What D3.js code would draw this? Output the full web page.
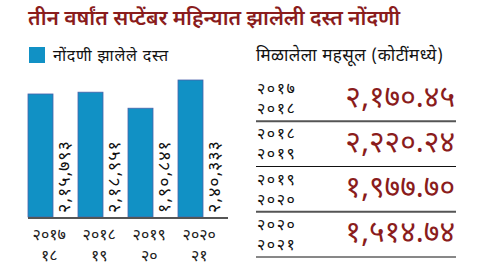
<!DOCTYPE html>
<html>
<head>
<meta charset="utf-8">
<script src="https://cdn.jsdelivr.net/npm/d3@7"></script>
<style>
  body { margin: 0; background: #fff; }
  svg { display: block; font-family: "Noto Sans Devanagari", "Noto Sans", sans-serif; }
</style>
</head>
<body>
<div class="chart-container"></div>
<script>
// data
const categories = ["2017-18", "2018-19", "2019-20", "2020-21"];
const fyStart = ["२०१७", "२०१८", "२०१९", "२०२०"];
const fyEndShort = ["१८", "१९", "२०", "२१"];
const fyEndFull = ["२०१८", "२०१९", "२०२०", "२०२१"];
const documents = [215793, 218951, 190841, 240333];
const revenue = [2170.45, 2220.24, 1977.70, 1514.74];

const title = "तीन वर्षांत सप्टेंबर महिन्यात झालेली दस्त नोंदणी";
const legendLabel = "नोंदणी झालेले दस्त";
const tableTitle = "मिळालेला महसूल (कोटींमध्ये)";

// devanagari digits + indian grouping
const devDigits = "०१२३४५६७८९";
const toDev = s => String(s).replace(/[0-9]/g, c => devDigits[+c]);
const indian = n => {
    const [int, dec] = String(n).split(".");
    let last3 = int.slice(-3), rest = int.slice(0, -3);
    if (rest) rest = rest.replace(/\B(?=(\d{2})+(?!\d))/g, ",") + ",";
    return rest + last3 + (dec !== undefined ? "." + dec : "");
};

const width = 480, height = 270;
const red = "#8a1c1c";

const svg = d3.select(".chart-container")
    .append("svg")
    .attr("width", width)
    .attr("height", height);

// title
svg.append("text")
    .attr("x", 28)
    .attr("y", 25)
    .attr("fill", red)
    .attr("font-size", 21)
    .attr("font-weight", 600)
    .attr("textLength", 372)
    .text(title);

// legend
svg.append("rect")
    .attr("x", 29).attr("y", 47)
    .attr("width", 16).attr("height", 16)
    .attr("fill", "#1191c5");
svg.append("text")
    .attr("x", 53).attr("y", 61)
    .attr("font-size", 16)
    .attr("fill", "#111")
    .attr("textLength", 115)
    .text(legendLabel);

svg.append("text")
    .attr("x", 256).attr("y", 61)
    .attr("font-size", 17)
    .attr("fill", "#111")
    .attr("textLength", 187)
    .text(tableTitle);

// bars
const x = d3.scaleBand()
    .domain(categories)
    .range([28, 228]);

const y = d3.scaleLinear()
    .domain([0, d3.max(documents)])
    .range([217, 80]);

const bw = x.step() / 2;

svg.append("g")
    .selectAll("rect")
    .data(categories)
    .join("rect")
    .attr("x", d => x(d))
    .attr("y", (d, i) => y(documents[i]))
    .attr("width", bw)
    .attr("height", (d, i) => y(0) - y(documents[i]))
    .attr("fill", "#1191c5")
    .attr("stroke", "#4a62aa")
    .attr("stroke-width", 0.8);

// value labels, rotated
svg.append("g")
    .selectAll("text")
    .data(categories)
    .join("text")
    .attr("transform", d => `translate(${x(d) + bw + 12},213) rotate(-90)`)
    .attr("dominant-baseline", "central")
    .attr("font-size", 18)
    .attr("fill", "#111")
    .attr("textLength", 72)
    .text((d, i) => toDev(indian(documents[i])));

// axis line
svg.append("line")
    .attr("x1", 28).attr("x2", 228)
    .attr("y1", y(0) + 1).attr("y2", y(0) + 1)
    .attr("stroke", "#555")
    .attr("stroke-width", 2);

// category labels
const cat = svg.append("g")
    .attr("text-anchor", "middle")
    .attr("font-size", 16)
    .attr("fill", "#222")
    .selectAll("g")
    .data(categories)
    .join("g")
    .attr("transform", d => `translate(${x(d) + bw * 0.85},0)`);
cat.append("text").attr("y", 240).text((d, i) => fyStart[i]);
cat.append("text").attr("y", 261).text((d, i) => fyEndShort[i]);

// revenue table
const rowY = d3.scaleBand()
    .domain(categories)
    .range([76, 257]);

const rows = svg.append("g")
    .selectAll("g")
    .data(categories)
    .join("g")
    .attr("transform", d => `translate(0,${rowY(d)})`);

rows.append("text")
    .attr("x", 257).attr("y", 18)
    .attr("font-size", 16)
    .attr("letter-spacing", 1.5)
    .attr("fill", "#111")
    .text((d, i) => fyStart[i]);
rows.append("text")
    .attr("x", 257).attr("y", 38)
    .attr("font-size", 16)
    .attr("letter-spacing", 1.5)
    .attr("fill", "#111")
    .text((d, i) => fyEndFull[i]);

rows.append("text")
    .attr("x", 455).attr("y", 23)
    .attr("text-anchor", "end")
    .attr("dominant-baseline", "central")
    .attr("font-size", 30)
    .attr("fill", red)
    .text((d, i) => toDev(indian(revenue[i].toFixed(2))));

rows.append("line")
    .attr("x1", 256).attr("x2", 456)
    .attr("y1", rowY.step()).attr("y2", rowY.step())
    .attr("stroke", (d, i) => i % 2 === 0 ? "#555" : "#111")
    .attr("stroke-width", (d, i) => i % 2 === 0 ? 2 : 1);
</script>
</body>
</html>
